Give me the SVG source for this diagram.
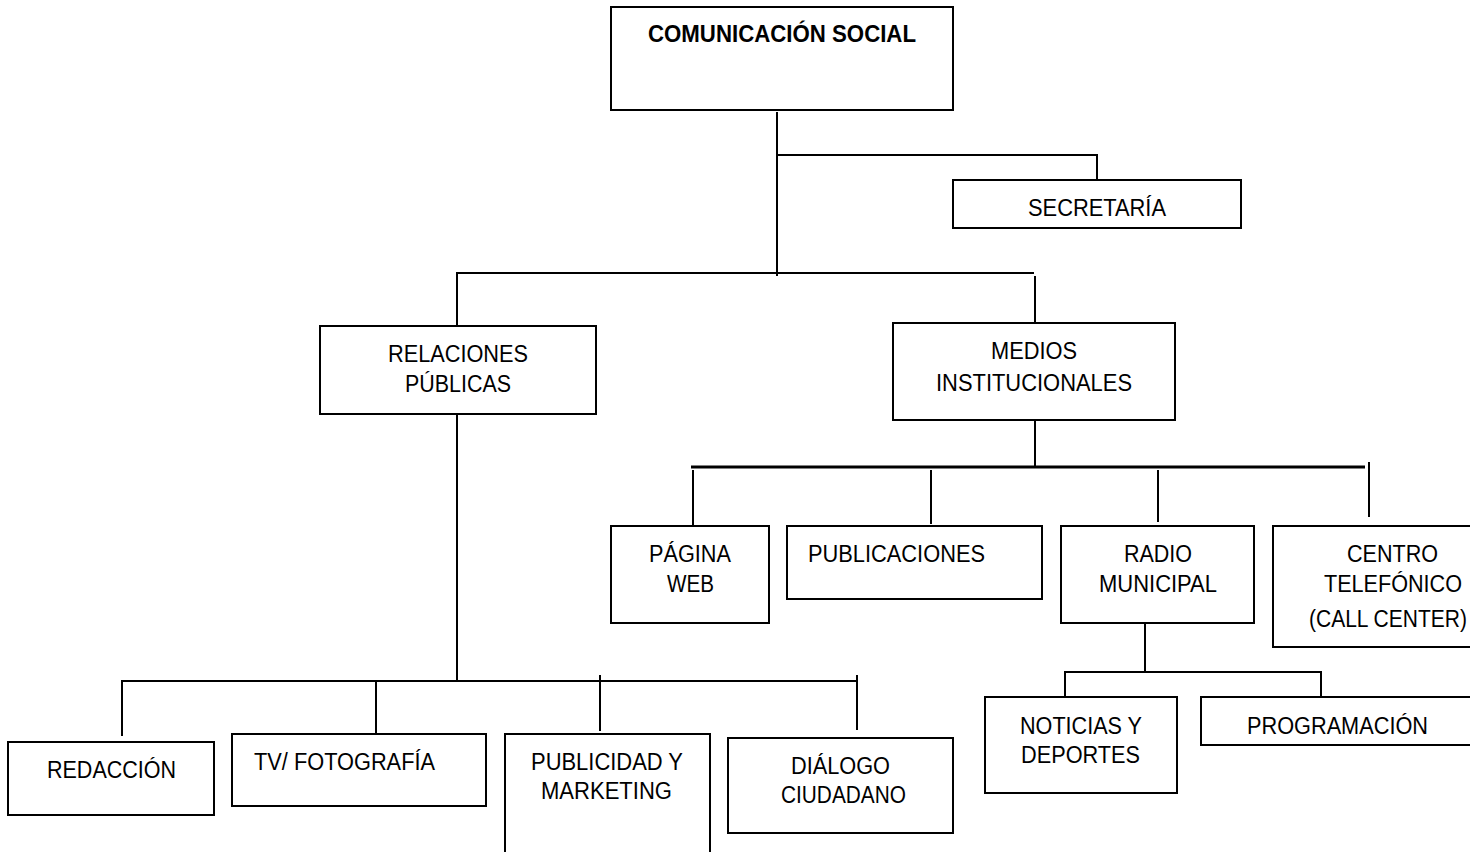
<svg xmlns="http://www.w3.org/2000/svg" width="1470" height="852" viewBox="0 0 1470 852">
  <style>
    .box { fill: #ffffff; stroke: #000000; stroke-width: 2; }
    .open { fill: none; stroke: #000000; stroke-width: 2; }
    .ln { fill: none; stroke: #000000; stroke-width: 2; }
    .thick { stroke-width: 3; }
    text { font-family: "Liberation Sans", Arial, sans-serif; font-size: 23px; fill: #000000; }
    .title { font-weight: bold; }
  </style>
  <rect width="1470" height="852" fill="#ffffff"/>

  <!-- connectors -->
  <g id="connectors">
    <!-- Comunicación social trunk -->
    <path class="ln" d="M777 112 V276"/>
    <path class="ln" d="M777 155 H1097 V180"/>
    <path class="ln" d="M456 273 H1034"/>
    <path class="ln" d="M457 273 V326"/>
    <path class="ln" d="M1035 276 V323"/>
    <!-- Medios institucionales -->
    <path class="ln" d="M1035 420 V467"/>
    <path class="ln thick" d="M691 467 H1365"/>
    <path class="ln" d="M693 470 V526"/>
    <path class="ln" d="M931 470 V524"/>
    <path class="ln" d="M1158 470 V522"/>
    <path class="ln" d="M1369 462 V517"/>
    <!-- Radio municipal -->
    <path class="ln" d="M1145 623 V672"/>
    <path class="ln" d="M1065 697 V672 H1321 V697"/>
    <!-- Relaciones públicas -->
    <path class="ln" d="M457 414 V681"/>
    <path class="ln" d="M121 681 H857"/>
    <path class="ln" d="M122 681 V736"/>
    <path class="ln" d="M376 681 V736"/>
    <path class="ln" d="M600 675 V731"/>
    <path class="ln" d="M857 675 V730"/>
  </g>

  <g id="comunicacion-social">
    <rect class="box" x="611" y="7" width="342" height="103"/>
    <text class="title" x="648" y="42" textLength="268" lengthAdjust="spacingAndGlyphs">COMUNICACIÓN  SOCIAL</text>
  </g>

  <g id="secretaria">
    <rect class="box" x="953" y="180" width="288" height="48"/>
    <text x="1028" y="216" textLength="138" lengthAdjust="spacingAndGlyphs">SECRETARÍA</text>
  </g>

  <g id="relaciones-publicas">
    <rect class="box" x="320" y="326" width="276" height="88"/>
    <text x="388" y="362" textLength="140" lengthAdjust="spacingAndGlyphs">RELACIONES</text>
    <text x="405" y="392" textLength="106" lengthAdjust="spacingAndGlyphs">PÚBLICAS</text>
  </g>

  <g id="medios-institucionales">
    <rect class="box" x="893" y="323" width="282" height="97"/>
    <text x="991" y="359" textLength="86" lengthAdjust="spacingAndGlyphs">MEDIOS</text>
    <text x="936" y="391" textLength="196" lengthAdjust="spacingAndGlyphs">INSTITUCIONALES</text>
  </g>

  <g id="pagina-web">
    <rect class="box" x="611" y="526" width="158" height="97"/>
    <text x="649" y="562" textLength="82" lengthAdjust="spacingAndGlyphs">PÁGINA</text>
    <text x="667" y="592" textLength="47" lengthAdjust="spacingAndGlyphs">WEB</text>
  </g>

  <g id="publicaciones">
    <rect class="box" x="787" y="526" width="255" height="73"/>
    <text x="808" y="562" textLength="177" lengthAdjust="spacingAndGlyphs">PUBLICACIONES</text>
  </g>

  <g id="radio-municipal">
    <rect class="box" x="1061" y="526" width="193" height="97"/>
    <text x="1124" y="562" textLength="68" lengthAdjust="spacingAndGlyphs">RADIO</text>
    <text x="1099" y="592" textLength="118" lengthAdjust="spacingAndGlyphs">MUNICIPAL</text>
  </g>

  <g id="centro-telefonico">
    <rect class="box" x="1273" y="526" width="210" height="121"/>
    <text x="1347" y="562" textLength="91" lengthAdjust="spacingAndGlyphs">CENTRO</text>
    <text x="1324" y="592" textLength="138" lengthAdjust="spacingAndGlyphs">TELEFÓNICO</text>
    <text x="1309" y="627" textLength="158" lengthAdjust="spacingAndGlyphs">(CALL CENTER)</text>
  </g>

  <g id="noticias-deportes">
    <rect class="box" x="985" y="697" width="192" height="96"/>
    <text x="1020" y="734" textLength="122" lengthAdjust="spacingAndGlyphs">NOTICIAS Y</text>
    <text x="1021" y="763" textLength="119" lengthAdjust="spacingAndGlyphs">DEPORTES</text>
  </g>

  <g id="programacion">
    <rect class="box" x="1201" y="697" width="282" height="48"/>
    <text x="1247" y="734" textLength="181" lengthAdjust="spacingAndGlyphs">PROGRAMACIÓN</text>
  </g>

  <g id="redaccion">
    <rect class="box" x="8" y="742" width="206" height="73"/>
    <text x="47" y="778" textLength="129" lengthAdjust="spacingAndGlyphs">REDACCIÓN</text>
  </g>

  <g id="tv-fotografia">
    <rect class="box" x="232" y="734" width="254" height="72"/>
    <text x="254" y="770" textLength="181" lengthAdjust="spacingAndGlyphs">TV/ FOTOGRAFÍA</text>
  </g>

  <g id="publicidad-marketing">
    <path class="open" d="M505 860 V734 H710 V860"/>
    <text x="531" y="770" textLength="152" lengthAdjust="spacingAndGlyphs">PUBLICIDAD Y</text>
    <text x="541" y="799" textLength="131" lengthAdjust="spacingAndGlyphs">MARKETING</text>
  </g>

  <g id="dialogo-ciudadano">
    <rect class="box" x="728" y="738" width="225" height="95"/>
    <text x="791" y="774" textLength="99" lengthAdjust="spacingAndGlyphs">DIÁLOGO</text>
    <text x="781" y="803" textLength="125" lengthAdjust="spacingAndGlyphs">CIUDADANO</text>
  </g>
</svg>
